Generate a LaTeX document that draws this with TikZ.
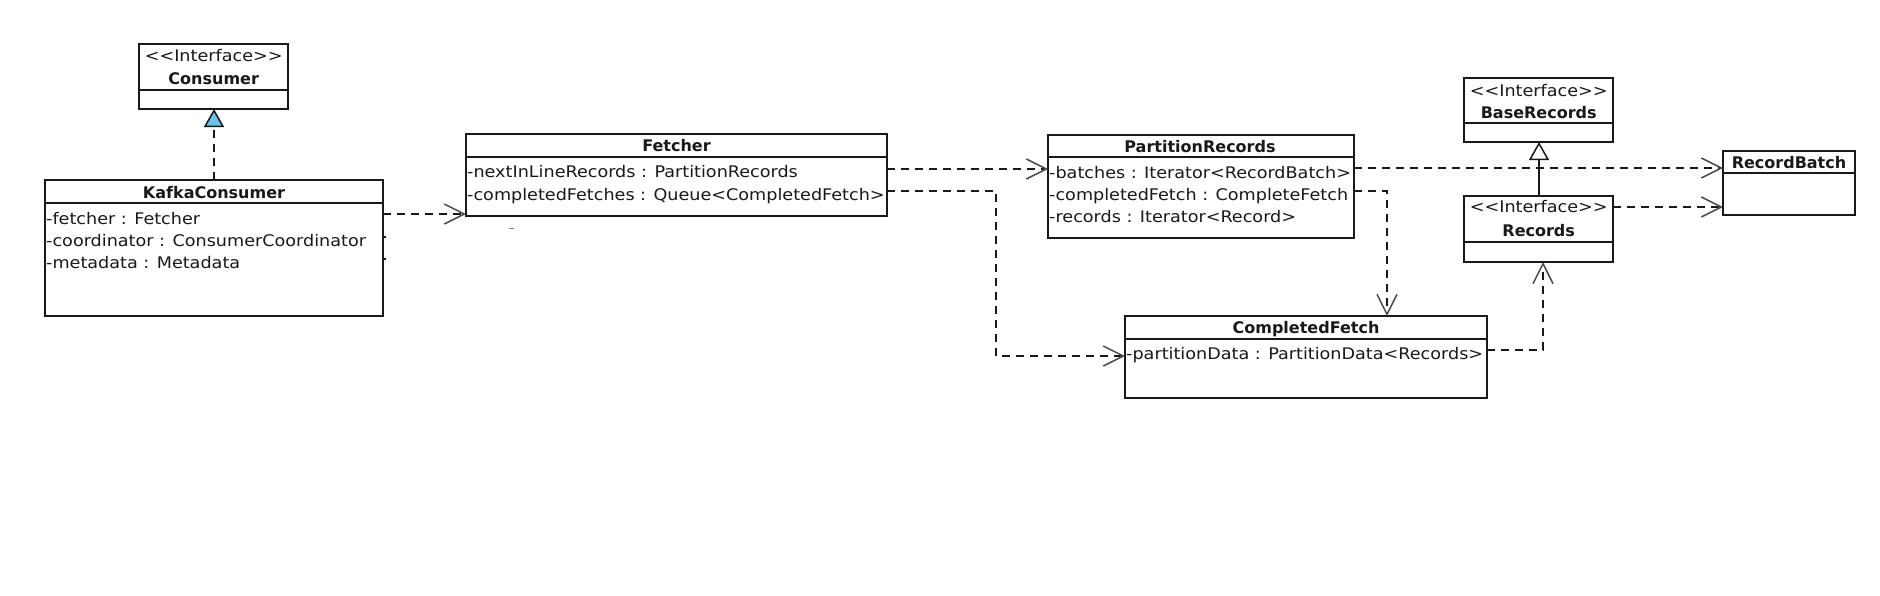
\documentclass[tikz,border=0pt]{standalone}
\usepackage{fontspec}
\setmainfont{DejaVu Sans}
\newfontfamily\regfont[FakeStretch=1.1]{DejaVu Sans}
\usetikzlibrary{arrows.meta}
\definecolor{ifblue}{RGB}{110,195,235}
\definecolor{ln}{RGB}{25,25,25}
\tikzset{
  cls/.style={draw=ln, line width=1.6pt, fill=white, inner sep=0pt, outer sep=0pt, anchor=north west},
  divider/.style={draw=ln, line width=1.6pt},
  ttl/.style={font=\bfseries\fontsize{16}{18}\selectfont, inner sep=0pt, anchor=base, text=ln},
  stereo/.style={font=\regfont\fontsize{16}{18}\selectfont, inner sep=0pt, anchor=base, text=ln},
  attr/.style={font=\regfont\fontsize{16}{18}\selectfont, inner sep=0pt, anchor=base west, text=ln},
  dep/.style={draw=ln, line width=1.6pt, dash pattern=on 8pt off 6pt,
    -{Straight Barb[length=20pt, width=20pt, line width=1.5pt, color=black!70]}},
  realize/.style={draw=ln, line width=1.6pt, dash pattern=on 8pt off 6pt,
    -{Triangle[length=18pt, width=20pt, line width=1.5pt, fill=ifblue, color=ln]}},
  general/.style={draw=ln, line width=1.6pt,
    -{Triangle[length=18pt, width=20pt, line width=1.5pt, open, fill=white, color=ln]}},
}
\begin{document}
\begin{tikzpicture}[x=1pt, y=-1pt]
\useasboundingbox (0,0) rectangle (1880,595);

% ---- Consumer interface
\node[cls, minimum width=149pt, minimum height=65pt] (cons) at (139,44) {};
\draw[divider] (cons.west |- 0,90) -- (cons.east |- 0,90);
\node[stereo] (consS) at (213.7,61.7) {{<}{<}Interface{>}{>}};
\node[ttl] (consT) at (213.7,84) {Consumer};

% ---- KafkaConsumer
\node[cls, minimum width=338pt, minimum height=136pt] (kc) at (45,180) {};
\draw[divider] (kc.west |- 0,203) -- (kc.east |- 0,203);
\node[ttl] (kcT) at (214,198.3) {KafkaConsumer};
\node[attr] (kc1) at (46,224) {-fetcher : Fetcher};
\node[attr] (kc2) at (46,246.5) {-coordinator : ConsumerCoordinator};
\node[attr] (kc3) at (46,268.5) {-metadata : Metadata};

% ---- Fetcher
\node[cls, minimum width=421pt, minimum height=82pt] (fet) at (466,134) {};
\draw[divider] (fet.west |- 0,157) -- (fet.east |- 0,157);
\node[ttl] (fetT) at (676.5,151.7) {Fetcher};
\node[attr] (fet1) at (467,177.7) {-nextInLineRecords : PartitionRecords};
\node[attr] (fet2) at (467,200.7) {-completedFetches : Queue{<}CompletedFetch{>}};

% ---- PartitionRecords
\node[cls, minimum width=306pt, minimum height=103pt] (pr) at (1048,135) {};
\draw[divider] (pr.west |- 0,157) -- (pr.east |- 0,157);
\node[ttl] (prT) at (1200,152.3) {PartitionRecords};
\node[attr] (pr1) at (1049,178.5) {-batches : Iterator{<}RecordBatch{>}};
\node[attr] (pr2) at (1049,200.7) {-completedFetch : CompleteFetch};
\node[attr] (pr3) at (1049,222.5) {-records : Iterator{<}Record{>}};

% ---- CompletedFetch
\node[cls, minimum width=362pt, minimum height=82pt] (cf) at (1125,316) {};
\draw[divider] (cf.west |- 0,339) -- (cf.east |- 0,339);
\node[ttl] (cfT) at (1306,333.3) {CompletedFetch};
\node[attr] (cf1) at (1126,359.3) {-partitionData : PartitionData{<}Records{>}};

% ---- BaseRecords interface
\node[cls, minimum width=149pt, minimum height=64pt] (br) at (1464,78) {};
\draw[divider] (br.west |- 0,123) -- (br.east |- 0,123);
\node[stereo] (brS) at (1538.7,96) {{<}{<}Interface{>}{>}};
\node[ttl] (brT) at (1538.7,118.3) {BaseRecords};

% ---- Records interface
\node[cls, minimum width=149pt, minimum height=66pt] (rec) at (1464,196) {};
\draw[divider] (rec.west |- 0,242) -- (rec.east |- 0,242);
\node[stereo] (recS) at (1538.7,212.7) {{<}{<}Interface{>}{>}};
\node[ttl] (recT) at (1538.7,236) {Records};

% ---- RecordBatch
\node[cls, minimum width=132pt, minimum height=64pt] (rb) at (1723,151) {};
\draw[divider] (rb.west |- 0,173) -- (rb.east |- 0,173);
\node[ttl] (rbT) at (1789,168.3) {RecordBatch};

% ---- connectors
\draw[realize] (kc.north -| 214,0) -- (cons.south -| 214,0);
\draw[general] (rec.north -| 1539,0) -- (br.south -| 1539,0);

\draw[dep] (kc.east |- 0,214) -- (fet.west |- 0,214);
\draw[dep] (fet.east |- 0,169) -- (pr.west |- 0,169);
\coordinate (b1) at (996,191);
\coordinate (b2) at (996,356);
\draw[dep] (fet.east |- b1) -- (b1) -- (b2) -- (cf.west |- b2);
\draw[dep] (pr.east |- 0,168) -- (rb.west |- 0,168);
\coordinate (c1) at (1387,191);
\draw[dep] (pr.east |- c1) -- (c1) -- (cf.north -| c1);
\coordinate (d1) at (1543,350);
\draw[dep] (cf.east |- d1) -- (d1) -- (rec.south -| d1);
\draw[dep] (rec.east |- 0,207) -- (rb.west |- 0,207);

% small stubs on the KafkaConsumer edge
\draw[ln, line width=1.5pt] (kc.east |- 0,237) -- ++(3,0);
\draw[ln, line width=1.5pt] (kc.east |- 0,259) -- ++(3,0);
\draw[black!50, line width=1pt] (509,228) -- (514,228);
\end{tikzpicture}
\end{document}
